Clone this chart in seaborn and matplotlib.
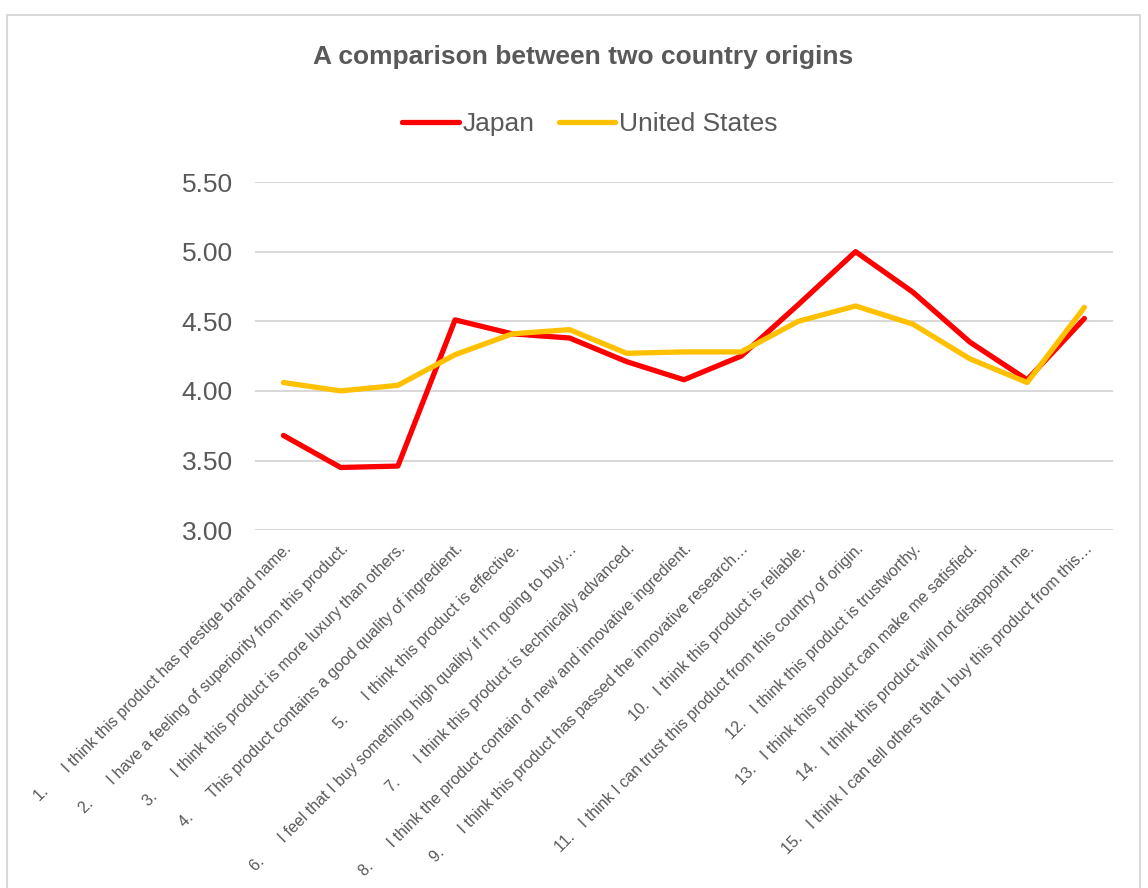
import pandas as pd
import matplotlib.pyplot as plt
import matplotlib.patches as patches
import seaborn as sns

items = [
    "1.      I think this product has prestige brand name.",
    "2.      I have a feeling of superiority from this product.",
    "3.      I think this product is more luxury than others.",
    "4.      This product contains a good quality of ingredient.",
    "5.      I think this product is effective.",
    "6.      I feel that I buy something high quality if I'm going to buy…",
    "7.      I think this product is technically advanced.",
    "8.      I think the product contain of new and innovative ingredient.",
    "9.      I think this product has passed the innovative research…",
    "10.   I think this product is reliable.",
    "11.   I think I can trust this product from this country of origin.",
    "12.   I think this product is trustworthy.",
    "13.   I think this product can make me satisfied.",
    "14.   I think this product will not disappoint me.",
    "15.   I think I can tell others that I buy this product from this…",
]
japan = [3.68, 3.45, 3.46, 4.51, 4.41, 4.38, 4.21, 4.08, 4.25, 4.62, 5.00, 4.71, 4.35, 4.08, 4.52]
usa = [4.06, 4.00, 4.04, 4.26, 4.41, 4.44, 4.27, 4.28, 4.28, 4.50, 4.61, 4.48, 4.23, 4.06, 4.60]

df = pd.DataFrame({
    'pos': list(range(len(items))) * 2,
    'score': japan + usa,
    'country': ['Japan'] * len(items) + ['United States'] * len(items),
})

sns.set_style('white')
plt.rcParams['font.family'] = ['Liberation Sans', 'DejaVu Sans']
grey = '#595959'

fig = plt.figure(figsize=(11.48, 8.88), dpi=100)
ax = fig.add_axes([0.222, 0.403, 0.7475, 0.392])

sns.lineplot(data=df, x='pos', y='score', hue='country',
             palette={'Japan': '#FF0000', 'United States': '#FFC000'},
             linewidth=3.8, ax=ax, zorder=3)

ax.set_xlim(-0.5, len(items) - 0.5)
ax.set_ylim(3.0, 5.5)
ax.set_yticks([3.0, 3.5, 4.0, 4.5, 5.0, 5.5])
ax.set_yticklabels([f'{v:.2f}' for v in ax.get_yticks()], fontsize=19, color=grey)
ax.set_xticks(range(len(items)))
ax.set_xticklabels(items, rotation=45, ha='right', rotation_mode='anchor',
                   fontsize=11.5, color=grey)
ax.tick_params(axis='both', length=0, pad=8)
ax.tick_params(axis='y', pad=16)
ax.yaxis.grid(True, color='#D9D9D9', linewidth=1.5)
ax.set_axisbelow(True)
for s in ax.spines.values():
    s.set_visible(False)
ax.set_xlabel('')
ax.set_ylabel('')

ax.legend(title=None, frameon=False, ncol=2, fontsize=19, loc='center',
          bbox_to_anchor=(590 / 1148, 1 - 124 / 888), bbox_transform=fig.transFigure,
          handlelength=2.15, columnspacing=0.9, handletextpad=0.15, labelcolor=grey)

fig.text(583 / 1148, 1 - 57 / 888, 'A comparison between two country origins',
         ha='center', va='center', fontsize=19, fontweight='bold', color=grey)

fig.patches.append(patches.Rectangle((7 / 1148, -0.05), 1133 / 1148, 1.05 - 15 / 888,
                                     transform=fig.transFigure, fill=False,
                                     edgecolor='#D9D9D9', linewidth=1.5))

fig.savefig('out.png', dpi=100, facecolor='white')
